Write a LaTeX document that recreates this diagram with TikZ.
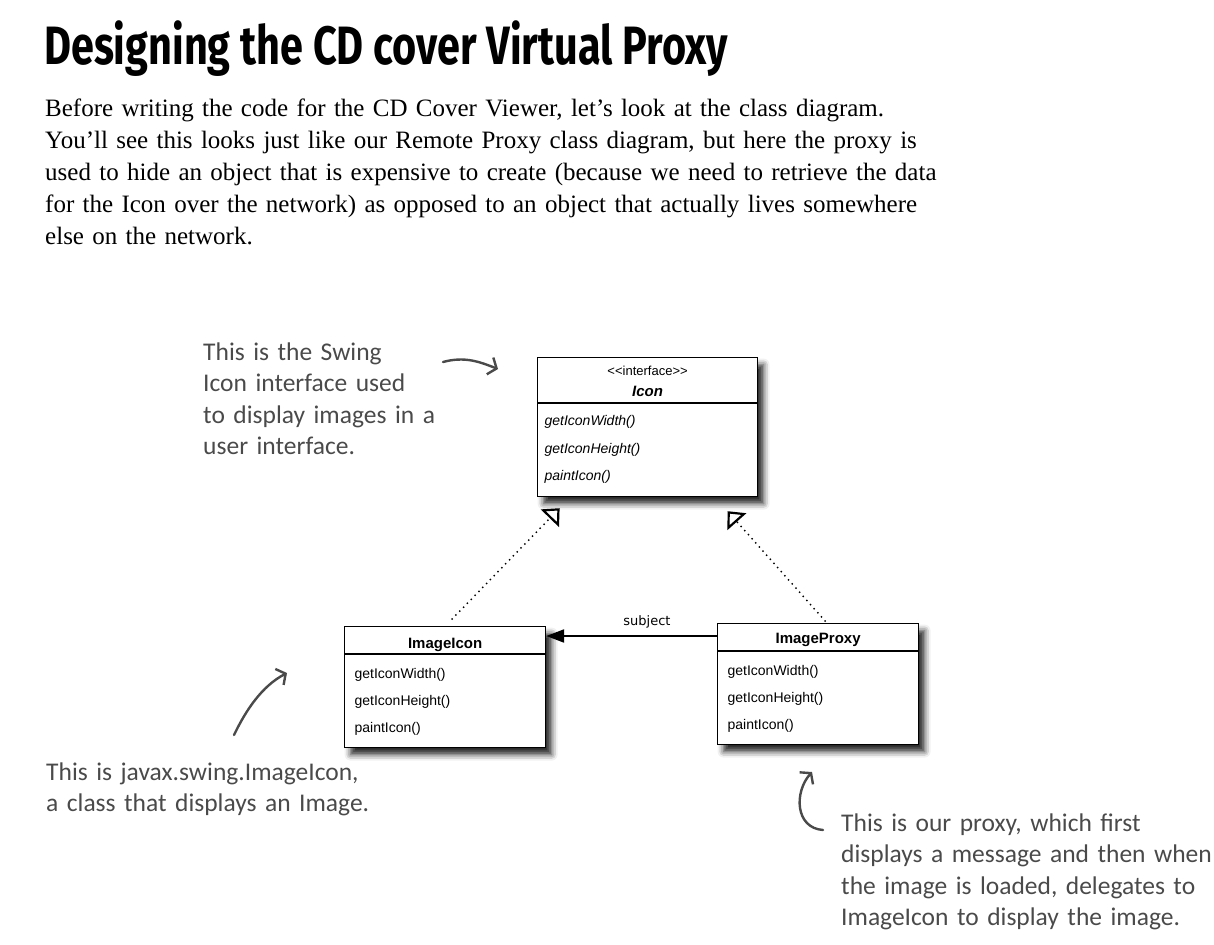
\documentclass[tikz,border=0pt]{standalone}
\usepackage{fontspec}
\usepackage{graphicx}
\usetikzlibrary{arrows.meta,positioning,shadows.blur}
\setmainfont{Liberation Serif}
\newfontfamily\umlfont{Liberation Sans}
\newfontfamily\labelfont{DejaVu Sans}
\newfontfamily\handfont{Carlito}
\newfontfamily\titlefont{Fira Sans}
\definecolor{pencil}{RGB}{74,74,74}
% name part of height #1 over method part of height #3, both #2 wide
\newcommand{\classparts}[5]{\vbox{\offinterlineskip
  \hbox{\parbox[t][#1]{#2}{#4}}\hbox{\parbox[t][#3]{#2}{#5}}}}

\begin{document}
\begin{tikzpicture}[x=1pt,y=-1pt]
  \tikzstyle{classbox}=[rectangle,draw=black,line width=1.2pt,fill=white,inner sep=0pt,anchor=north west,
    blur shadow={shadow xshift=6pt,shadow yshift=-7pt,shadow blur radius=6pt,shadow opacity=85}]
  \tikzstyle{divider}=[line width=1.2pt]
  \tikzstyle{note}=[anchor=base west,align=left,inner sep=0pt,text=pencil,text width=420pt,
    font=\handfont\fontsize{25.5}{31.5}\selectfont]
  \tikzstyle{scribble}=[pencil,line width=2.4pt,line cap=round,line join=round,
    -{Straight Barb[length=7pt,width=18pt,line width=2.4pt]}]
  \tikzstyle{realizes}=[line width=2pt,line cap=round,dash pattern=on 0pt off 5.5pt,
    -{Triangle[open,length=14pt,width=25pt,line width=2.2pt]}]
  \useasboundingbox (0,0) rectangle (1214,944);

  % heading and intro
  \node[anchor=base west,inner sep=0pt] (title) at (44,65)
    {\resizebox{684pt}{\height}{\titlefont\bfseries\fontsize{54}{54}\selectfont Designing the CD cover Virtual Proxy}};
  \node[anchor=base west,inner sep=0pt,text width=960pt,align=left,
    font=\fontsize{25}{32}\selectfont] (intro) at (45,117)
    {Before writing the code for the CD Cover Viewer, let’s look at the class diagram.\\
     You’ll see this looks just like our Remote Proxy class diagram, but here the proxy is\\
     used to hide an object that is expensive to create (because we need to retrieve the data\\
     for the Icon over the network) as opposed to an object that actually lives somewhere\\
     else on the network.};

  % classes
  \node[classbox] (icon) at (537,357) {\classparts{46pt}{220pt}{93pt}%
    {\centering\umlfont\fontsize{13}{21}\selectfont
      \rule{0pt}{18pt}<\kern0pt<interface>\kern0pt>\\
      \fontsize{15}{21}\selectfont\bfseries\itshape Icon}%
    {\raggedright\leftskip=7pt\umlfont\itshape\fontsize{14}{27.5}\selectfont
      \rule{0pt}{22pt}getIconWidth()\\ getIconHeight()\\ paintIcon()}};
  \node[classbox] (imageicon) at (344,626) {\classparts{28pt}{201pt}{93pt}%
    {\centering\umlfont\bfseries\fontsize{15}{21}\selectfont
      \rule{0pt}{22pt}ImageIcon}%
    {\raggedright\leftskip=10pt\umlfont\fontsize{14}{27}\selectfont
      \rule{0pt}{24pt}getIconWidth()\\ getIconHeight()\\ paintIcon()}};
  \node[classbox] (imageproxy) at (717,623) {\classparts{28pt}{201pt}{93pt}%
    {\centering\umlfont\bfseries\fontsize{15}{21}\selectfont
      \rule{0pt}{20pt}ImageProxy}%
    {\raggedright\leftskip=10pt\umlfont\fontsize{14}{27}\selectfont
      \rule{0pt}{24pt}getIconWidth()\\ getIconHeight()\\ paintIcon()}};
  \draw[divider] ([yshift=-46pt]icon.north west) -- ([yshift=-46pt]icon.north east);
  \draw[divider] ([yshift=-28pt]imageicon.north west) -- ([yshift=-28pt]imageicon.north east);
  \draw[divider] ([yshift=-28pt]imageproxy.north west) -- ([yshift=-28pt]imageproxy.north east);

  % relations
  \draw[realizes] ([xshift=7pt,yshift=7pt]imageicon.north) -- ([xshift=-88pt,yshift=-11pt]icon.south);
  \draw[realizes] ([xshift=7pt,yshift=2pt]imageproxy.north) -- ([xshift=80pt,yshift=-14pt]icon.south);
  \draw[line width=2.2pt,-{Triangle[length=18pt,width=13pt]}]
    ([yshift=-13pt]imageproxy.north west) -- ([yshift=-10pt]imageicon.north east)
    node[pos=0.41,above=3pt,font=\labelfont\fontsize{13}{13}\selectfont] (subject) {subject};

  % notes
  \node[note] (swingnote) at (203,360)
    {This is the Swing\\ Icon interface used\\ to display images in a\\ user interface.};
  \node[note] (iconnote) at (46,780)
    {This is javax.swing.ImageIcon,\\ a class that displays an Image.};
  \node[note] (proxynote) at (841,831)
    {This is our proxy, which first\\ displays a message and then when\\ the image is loaded, delegates to\\ ImageIcon to display the image.};

  \coordinate (swingtail) at (443,362);
  \coordinate (swinghead) at (498,369);
  \coordinate (icontail) at (234,735);
  \coordinate (iconhead) at (287,673);
  \coordinate (proxytail) at (823,830);
  \coordinate (proxyhead) at (812,772);
  \draw[scribble] (swingtail) .. controls (465,356) and (480,362) .. (swinghead);
  \draw[scribble] (icontail) .. controls (246,710) and (262,686) .. (iconhead);
  \draw[scribble] (proxytail) .. controls (795,828) and (794,792) .. (proxyhead);
\end{tikzpicture}
\end{document}
